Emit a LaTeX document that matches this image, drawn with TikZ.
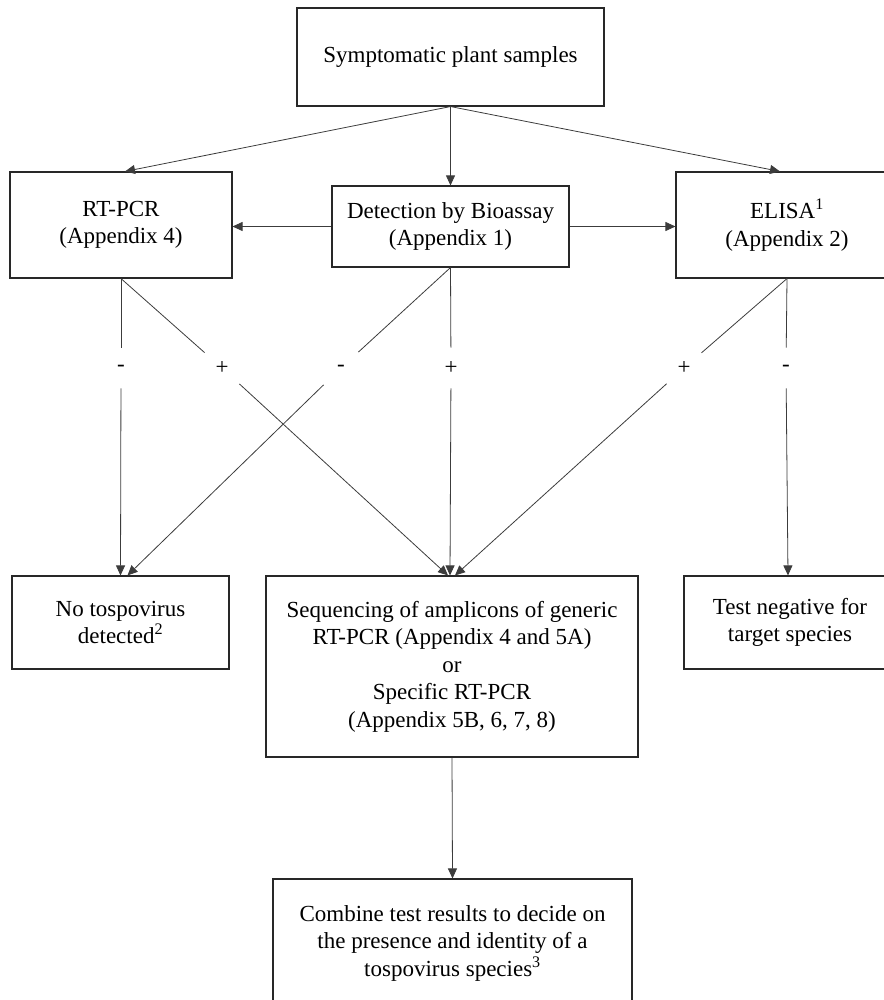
\documentclass[tikz,border=0pt]{standalone}
\usepackage{fontspec}
\setmainfont{Liberation Serif}
\usetikzlibrary{positioning,arrows.meta,calc}
\tikzset{
    every picture/.style={
        line width=0.8pt
    },
    % Style for the boxes of the scheme
    flow box/.style={
        draw=boxLine,
        line width=1.1pt,
        align=center,
        inner sep=0pt,
        font=\fontsize{23}{27.5}\selectfont
    },
    % Style for the plus and minus signs on the lines
    sign label/.style={
        inner sep=0pt,
        minimum width=34pt,
        minimum height=40pt,
        font=\fontsize{23}{27.5}\selectfont
    },
    % Connector with arrow head
    flow arrow/.style={
        -{Triangle[length=10pt,width=9pt]},
        color=flowLine
    },
    % Connector without arrow head
    flow line/.style={
        color=flowLine
    }
}
\definecolor{boxLine}{RGB}{40,40,40}
\definecolor{flowLine}{RGB}{60,60,60}

\begin{document}
\begin{tikzpicture}[x=1pt,y=-1pt]

% Set the canvas size
\path[use as bounding box] (0,0) rectangle (883,1000);

% Boxes
\node[flow box, minimum width=307pt, minimum height=98pt] (samples) at (450.5,57) {Symptomatic plant samples};
\node[flow box, minimum width=222pt, minimum height=106pt] (rtpcr) at (121,225) {RT-PCR\\(Appendix 4)};
\node[flow box, minimum width=237pt, minimum height=81pt] (detect) at (450.5,226.5) {Detection by Bioassay\\(Appendix 1)};
\node[flow box, minimum width=222pt, minimum height=106pt] (elisa) at (787,225) {ELISA\textsuperscript{1}\\(Appendix 2)};

\node[flow box, minimum width=217pt, minimum height=93pt] (notosp) at (120.5,622.5) {No tospovirus\\detected\textsuperscript{2}};
\node[flow box, minimum width=372pt, minimum height=181pt] (seq) at (452,666.5) {Sequencing of amplicons of generic\\RT-PCR (Appendix 4 and 5A)\\or\\Specific RT-PCR\\(Appendix 5B, 6, 7, 8)};
\node[flow box, minimum width=212pt, minimum height=93pt] (testneg) at (790,622.5) {Test negative for\\target species};

\node[flow box, minimum width=359pt, minimum height=128pt] (combine) at (452.5,943) {Combine test results to decide on\\the presence and identity of a\\tospovirus species\textsuperscript{3}};

% Signs on the result lines
\node[sign label] (rtMinus) at (121,368) {-};
\node[sign label] (rtPlus) at (222,368) {+};
\node[sign label] (bioMinus) at (341,368) {-};
\node[sign label] (bioPlus) at (451,368) {+};
\node[sign label] (elisaPlus) at (684,368) {+};
\node[sign label] (elisaMinus) at (786,368) {-};

% Arrows from the samples
\draw[flow arrow] (samples.south) -- ($(rtpcr.north)+(4,0)$);
\draw[flow arrow] (samples.south) -- (detect.north);
\draw[flow arrow] (samples.south) -- ($(elisa.north)+(-7,0)$);

% Arrows from the bioassay
\draw[flow arrow] (detect.west) -- (detect.west -| rtpcr.east);
\draw[flow arrow] (detect.east) -- (detect.east -| elisa.west);

% RT-PCR results
\draw[flow line] (rtpcr.south) -- (rtMinus);
\draw[flow arrow] (rtMinus) -- (notosp.north);
\draw[flow line] (rtpcr.south) -- (rtPlus);
\draw[flow arrow] (rtPlus) -- ($(seq.north)+(-4,0)$);

% Bioassay results
\draw[flow line] (detect.south) -- (bioMinus);
\draw[flow arrow] (bioMinus) -- ($(notosp.north)+(7,0)$);
\draw[flow line] (detect.south) -- (bioPlus);
\draw[flow arrow] (bioPlus) -- ($(seq.north)+(-2,0)$);

% ELISA results
\draw[flow line] (elisa.south) -- (elisaPlus);
\draw[flow arrow] (elisaPlus) -- ($(seq.north)+(3,0)$);
\draw[flow line] (elisa.south) -- (elisaMinus);
\draw[flow arrow] (elisaMinus) -- ($(testneg.north)+(-2,0)$);

% Final step
\draw[flow arrow] (seq.south) -- (combine.north);

\end{tikzpicture}
\end{document}
